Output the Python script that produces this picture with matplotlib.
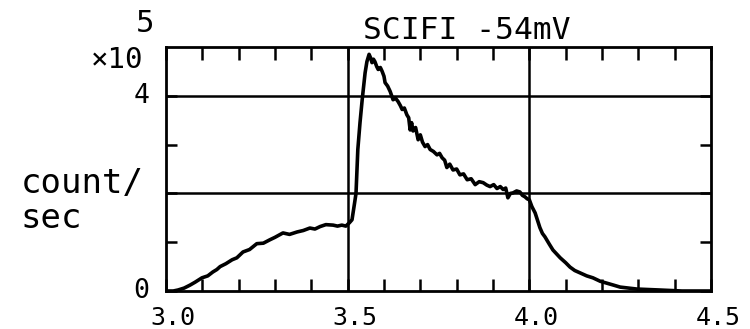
import matplotlib.pyplot as plt
import matplotlib.transforms as mtransforms

# данные (энергия / скорость счёта, x10^4)
energy = [3.000, 3.020, 3.033, 3.050, 3.066, 3.080, 3.099, 3.115, 3.129, 3.140,
          3.149, 3.165, 3.182, 3.195, 3.212, 3.230, 3.250, 3.268, 3.286, 3.300,
          3.322, 3.340, 3.361, 3.378, 3.396, 3.410, 3.424, 3.440, 3.460, 3.472,
          3.484, 3.495, 3.505, 3.512, 3.515, 3.519, 3.523, 3.528, 3.534, 3.540,
          3.548, 3.553, 3.559, 3.563, 3.567, 3.571, 3.575, 3.580, 3.584, 3.590,
          3.595, 3.600, 3.603, 3.610, 3.617, 3.625, 3.632, 3.639, 3.645, 3.650,
          3.656, 3.663, 3.668, 3.672, 3.676, 3.680, 3.687, 3.694, 3.700, 3.706,
          3.713, 3.720, 3.727, 3.736, 3.746, 3.753, 3.760, 3.767, 3.773, 3.781,
          3.790, 3.800, 3.809, 3.819, 3.829, 3.840, 3.851, 3.862, 3.873, 3.883,
          3.892, 3.902, 3.911, 3.920, 3.928, 3.935, 3.941, 3.948, 3.955, 3.965,
          3.974, 3.981, 3.988, 3.994, 4.000, 4.007, 4.016, 4.022, 4.029, 4.036,
          4.043, 4.055, 4.065, 4.075, 4.085, 4.100, 4.112, 4.125, 4.140, 4.158,
          4.175, 4.195, 4.214, 4.232, 4.250, 4.272, 4.296, 4.330, 4.360, 4.420,
          4.500]
rate = [0.00, 0.00, 0.02, 0.06, 0.12, 0.18, 0.27, 0.31, 0.39, 0.44,
        0.50, 0.56, 0.64, 0.68, 0.80, 0.85, 0.97, 0.98, 1.05, 1.10,
        1.19, 1.16, 1.21, 1.24, 1.29, 1.27, 1.32, 1.36, 1.35, 1.33,
        1.35, 1.33, 1.40, 1.46, 1.60, 1.80, 2.00, 2.90, 3.45, 3.92,
        4.47, 4.70, 4.85, 4.78, 4.68, 4.75, 4.70, 4.60, 4.54, 4.58,
        4.50, 4.40, 4.27, 4.20, 4.09, 3.92, 3.95, 3.88, 3.80, 3.72,
        3.75, 3.61, 3.55, 3.30, 3.45, 3.28, 3.35, 3.10, 3.20, 3.05,
        2.96, 3.00, 2.90, 2.86, 2.79, 2.82, 2.73, 2.68, 2.53, 2.60,
        2.48, 2.50, 2.38, 2.40, 2.28, 2.30, 2.18, 2.24, 2.22, 2.17,
        2.14, 2.18, 2.10, 2.14, 2.08, 2.11, 1.91, 2.00, 2.01, 2.05,
        2.03, 1.96, 1.93, 1.89, 1.87, 1.73, 1.60, 1.46, 1.30, 1.18,
        1.11, 0.96, 0.84, 0.76, 0.68, 0.58, 0.49, 0.42, 0.37, 0.31,
        0.27, 0.20, 0.16, 0.12, 0.08, 0.06, 0.04, 0.03, 0.02, 0.00,
        0.00]

x_ticks = [3.0, 3.1, 3.2, 3.3, 3.4, 3.5, 3.6, 3.7, 3.8, 3.9,
           4.0, 4.1, 4.2, 4.3, 4.4, 4.5]
x_labels = ['3.0', '', '', '', '', '3.5', '', '', '', '',
            '4.0', '', '', '', '', '4.5']
y_ticks = [0, 1, 2, 3, 4]
y_labels = ['0', '', '', '', '4']
grid_x = [3.5, 4.0]
grid_y = [2, 4]

plt.rcParams['font.family'] = ['DejaVu Sans Mono']

fig = plt.figure(figsize=(7.5, 3.29), dpi=100)
ax = fig.add_axes([0.2213, 0.1155, 0.7267, 0.7416])

ax.plot(energy, rate, color='black', lw=2.6)

for gx in grid_x:
    ax.axvline(gx, color='black', lw=1.8)
for gy in grid_y:
    ax.axhline(gy, color='black', lw=1.8)

ax.set_xlim(3.0, 4.5)
ax.set_ylim(0, 5)
ax.set_xticks(x_ticks)
ax.set_xticklabels(x_labels, fontsize=18)
ax.set_yticks(y_ticks)
ax.set_yticklabels(y_labels, fontsize=19)
ax.tick_params(axis='x', direction='in', length=9, width=1.8,
               top=True, pad=11)
ax.tick_params(axis='y', direction='in', length=8, width=1.8,
               right=True, pad=12)
for s in ax.spines.values():
    s.set_linewidth(2.0)

# подписи по оси x немного сдвинуты вправо, как на оригинале
shift = mtransforms.ScaledTranslation(0.07, 0, fig.dpi_scale_trans)
for lbl in ax.get_xticklabels():
    lbl.set_transform(lbl.get_transform() + shift)
# подписи по оси y чуть выше
shift_y = mtransforms.ScaledTranslation(0, 0.03, fig.dpi_scale_trans)
for lbl in ax.get_yticklabels():
    lbl.set_transform(lbl.get_transform() + shift_y)

ax.text(0.552, 1.01, 'SCIFI -54mV', transform=ax.transAxes,
        fontsize=22.5, ha='center', va='bottom')

fig.text(0.156, 0.818, '×10', fontsize=21, ha='center', va='center')
fig.text(0.193, 0.929, '5', fontsize=22, ha='center', va='center')
fig.text(0.027, 0.389, 'count/\nsec', fontsize=24.5, ha='left', va='center',
         linespacing=1.05)

fig.savefig('out.png', dpi=100)
